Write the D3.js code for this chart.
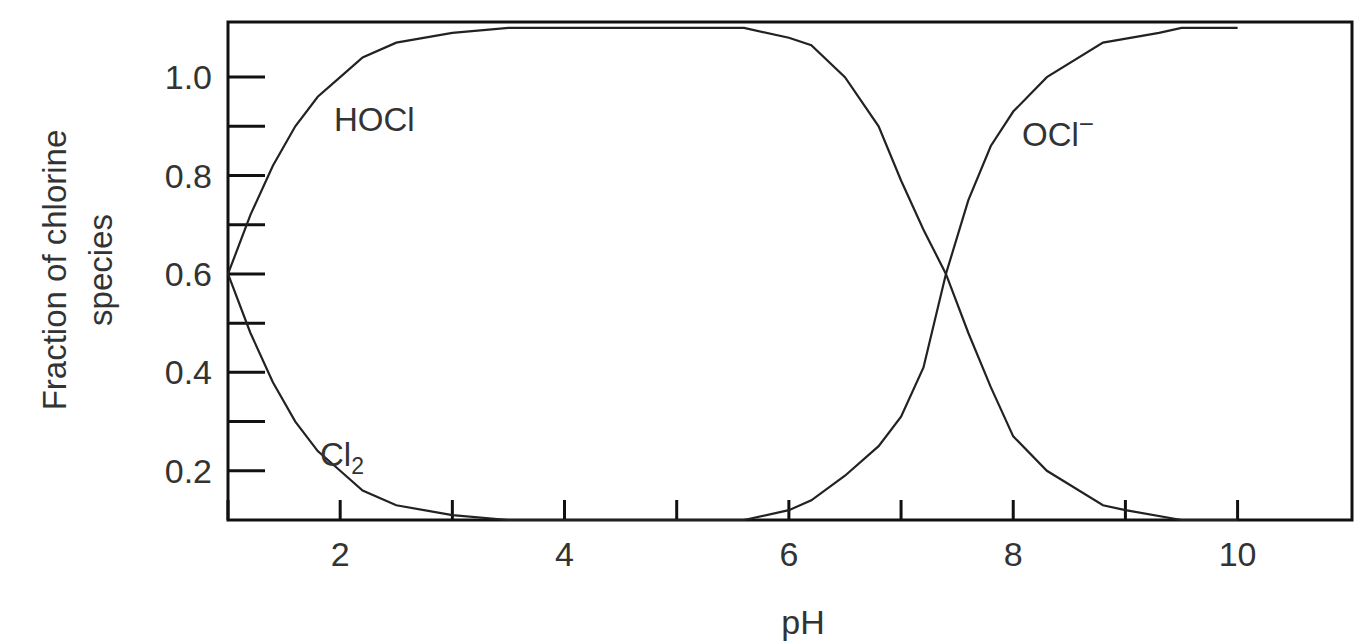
<!DOCTYPE html>
<html><head><meta charset="utf-8">
<script src="https://cdn.jsdelivr.net/npm/d3@7"></script>
<style>body{margin:0;background:#fff}text{font-family:"Liberation Sans",Arial,sans-serif;fill:#333}</style>
</head><body><svg id="c" width="1371" height="643"></svg>
<script>
const hoclX = [1,1.2,1.4,1.6,1.8,2,2.2,2.5,3,3.5,4,5,5.6,6,6.2,6.5,6.8,7,7.2,7.4,7.6,7.8,8,8.3,8.8,9,9.5,10];
const hoclY = [0.6,0.72,0.82,0.9,0.96,1.0,1.04,1.07,1.09,1.1,1.1,1.1,1.1,1.08,1.065,1.0,0.9,0.79,0.69,0.6,0.48,0.37,0.27,0.2,0.13,0.12,0.1,0.1];
const lowX = [1,1.2,1.4,1.6,1.8,2,2.2,2.5,3,3.5,4,5,5.6,6,6.2,6.5,6.8,7,7.2,7.4,7.6,7.8,8,8.3,8.8,9.3,9.5,10];
const lowY = [0.6,0.48,0.38,0.3,0.24,0.2,0.16,0.13,0.11,0.1,0.1,0.1,0.1,0.12,0.14,0.19,0.25,0.31,0.41,0.6,0.75,0.86,0.93,1.0,1.07,1.09,1.1,1.1];
const xTicks = [2,4,6,8,10];
const xMinor = [1,2,3,4,5,6,7,8,9,10];
const yTickLabels = [0.2,0.4,0.6,0.8,1.0];
const yMinor = [0.2,0.3,0.4,0.5,0.6,0.7,0.8,0.9,1.0];

const svg = d3.select("#c");
const x = d3.scaleLinear().domain([1,11.02]).range([228,1352]);
const y = d3.scaleLinear().domain([0.1,1.112]).range([520,22]);
const g = svg.append("g");
g.append("rect").attr("x",228).attr("y",22).attr("width",1124).attr("height",498)
 .attr("fill","none").attr("stroke","#111").attr("stroke-width",3);
g.selectAll(".yt").data(yMinor).join("line").attr("x1",228).attr("x2",265)
 .attr("y1",d=>y(d)).attr("y2",d=>y(d)).attr("stroke","#111").attr("stroke-width",3);
g.selectAll(".xt").data(xMinor).join("line").attr("y1",520).attr("y2",500)
 .attr("x1",d=>x(d)).attr("x2",d=>x(d)).attr("stroke","#111").attr("stroke-width",3);
g.selectAll(".yl").data(yTickLabels).join("text").attr("x",212).attr("y",d=>y(d)+12)
 .attr("text-anchor","end").attr("font-size",34).text(d=>d.toFixed(1));
g.selectAll(".xl").data(xTicks).join("text").attr("x",d=>x(d)).attr("y",566)
 .attr("text-anchor","middle").attr("font-size",34).text(d=>d);
const line = d3.line().x(d=>x(d[0])).y(d=>y(d[1]));
[[hoclX,hoclY],[lowX,lowY]].forEach(([xs,ys])=>{
  g.append("path").attr("d",line(xs.map((v,i)=>[v,ys[i]]))).attr("fill","none")
   .attr("stroke","#222").attr("stroke-width",2.2);
});
svg.append("text").attr("x",803).attr("y",634).attr("text-anchor","middle").attr("font-size",34).text("pH");
svg.append("text").attr("transform","translate(66,270) rotate(-90)").attr("text-anchor","middle").attr("font-size",33).text("Fraction of chlorine");
svg.append("text").attr("transform","translate(112,270) rotate(-90)").attr("text-anchor","middle").attr("font-size",33).text("species");
svg.append("text").attr("x",334).attr("y",131).attr("font-size",33).text("HOCl");
const o = svg.append("text").attr("x",1022).attr("y",146).attr("font-size",33);
o.append("tspan").text("OCl"); o.append("tspan").attr("dy",-13).attr("font-size",26).text("−");
const c = svg.append("text").attr("x",320).attr("y",466).attr("font-size",33);
c.append("tspan").text("Cl"); c.append("tspan").attr("dy",8).attr("font-size",23).text("2");
</script></body></html>
